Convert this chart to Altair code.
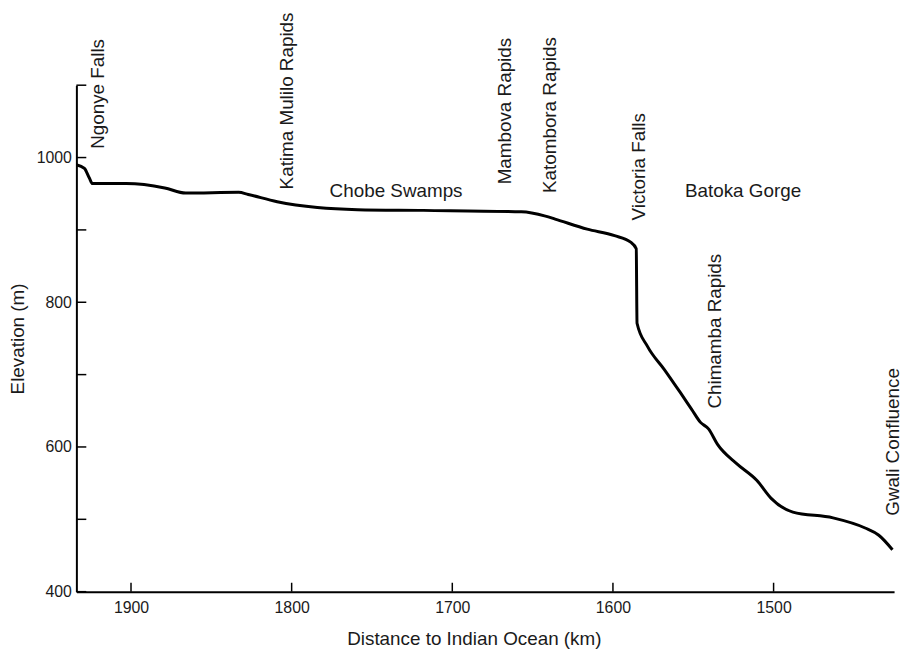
import altair as alt
import pandas as pd

# River profile (distance to Indian Ocean in km, elevation in m)
dist_km = [1934, 1929, 1926, 1924, 1903, 1879, 1866, 1833, 1827, 1809, 1784, 1759,
           1718, 1657, 1642, 1636, 1616, 1599, 1589, 1585.5, 1585, 1578.5, 1568,
           1558, 1551, 1545.5, 1540.5, 1535, 1523, 1510.5, 1501.5, 1488, 1463,
           1443, 1434.5, 1426]
elev_m = [990, 985, 972, 964, 964, 958, 951, 952, 949, 939, 931, 928,
          927, 925, 919, 915, 901, 892, 883, 874, 771, 739, 707,
          675, 652, 634, 625, 604, 577, 554, 529, 510, 502,
          488, 478, 458]

# Vertical annotations (text reads bottom-to-top, anchored at its lower end)
vlabels = ["Ngonye Falls", "Katima Mulilo Rapids", "Mambova Rapids",
           "Katombora Rapids", "Victoria Falls", "Chimamba Rapids", "Gwali Confluence"]
vlabel_km = [1920.4, 1802.6, 1666.9, 1639.1, 1583.6, 1536.7, 1425.7]
vlabel_elev = [1012, 956, 963, 951, 913, 653, 505]

# Horizontal annotations
hlabels = ["Chobe Swamps", "Batoka Gorge"]
hlabel_km = [1735, 1519]
hlabel_elev = [954, 954]

# Ticks
x_ticks = [1900, 1800, 1700, 1600, 1500]
y_ticks = [400, 500, 600, 700, 800, 900, 1000, 1100]
y_labels = [400, 600, 800, 1000]

FONT = "Liberation Sans"
W, H = 825, 511

line_df = pd.DataFrame({"km": dist_km, "elev": elev_m})
vdf = pd.DataFrame({"label": vlabels, "km": vlabel_km, "elev": vlabel_elev})
hdf = pd.DataFrame({"label": hlabels, "km": hlabel_km, "elev": hlabel_elev})
xt_df = pd.DataFrame({"km": x_ticks})
yt_df = pd.DataFrame({"elev": y_ticks})

xscale = alt.Scale(domain=[1425, 1934], reverse=True, nice=False, zero=False)
yscale = alt.Scale(domain=[400, 1100], nice=False, zero=False)

xaxis = alt.Axis(
    title="Distance to Indian Ocean (km)", values=x_ticks, format="d",
    ticks=False, tickSize=0, labelPadding=8, titlePadding=14,
    titleX=401, titleAlign="center")
yaxis = alt.Axis(
    title="Elevation (m)", values=y_labels, format="d",
    ticks=False, tickSize=0, labelPadding=5, titlePadding=9)

X = alt.X("km:Q", scale=xscale, axis=xaxis)
Y = alt.Y("elev:Q", scale=yscale, axis=yaxis)

line = alt.Chart(line_df).mark_line(
    color="black", strokeWidth=3, interpolate="monotone"
).encode(x=X, y=Y)

yticks = alt.Chart(yt_df).mark_rule(color="black", strokeWidth=1.5).encode(
    y=Y, x=alt.value(0), x2=alt.value(10),
)

xticks = alt.Chart(xt_df).mark_rule(color="black", strokeWidth=1.5).encode(
    x=X, y=alt.value(H), y2=alt.value(H - 9),
)

vtext = alt.Chart(vdf).mark_text(
    angle=270, align="left", baseline="middle", font=FONT, fontSize=19, color="#1a1a1a"
).encode(x=X, y=Y, text="label:N")

htext = alt.Chart(hdf).mark_text(
    align="center", baseline="middle", font=FONT, fontSize=19, color="#1a1a1a"
).encode(x=X, y=Y, text="label:N")

chart = alt.layer(line, yticks, xticks, vtext, htext).properties(
    width=W, height=H,
    autosize=alt.AutoSizeParams(type="none"),
    padding={"left": 69, "top": 75, "right": 8, "bottom": 60},
).configure_view(stroke=None).configure_axis(
    domainColor="black", domainWidth=2, grid=False,
    labelFont=FONT, labelFontSize=16, labelColor="#1a1a1a",
    titleFont=FONT, titleFontSize=19, titleFontWeight="normal", titleColor="#1a1a1a",
)

chart.save("out.html", embed_options={"renderer": "svg", "actions": False})
